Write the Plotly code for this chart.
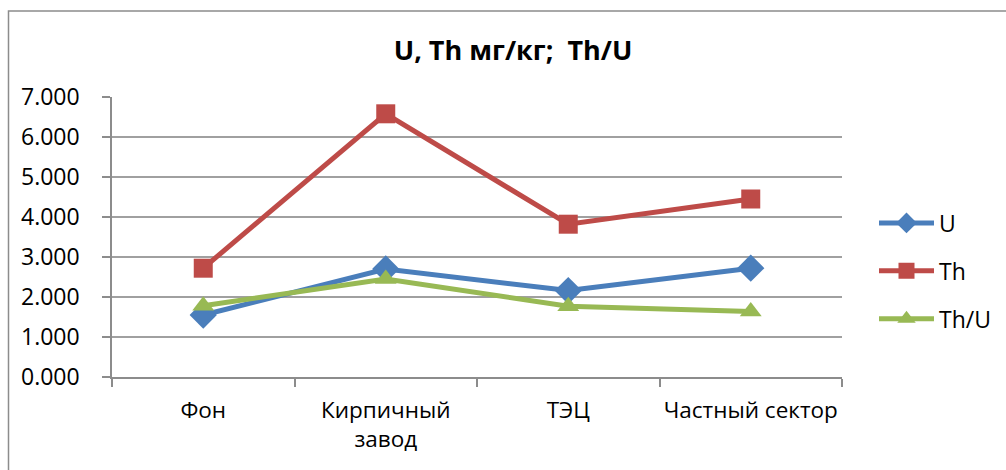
import plotly.graph_objects as go

# Sampling sites and measured values
categories = ["Фон", "Кирпичный<br>завод", "ТЭЦ", "Частный сектор"]
u_values = [1.55, 2.70, 2.16, 2.72]
th_values = [2.72, 6.58, 3.82, 4.45]
th_u_values = [1.78, 2.45, 1.77, 1.64]

series = [
    ("U", u_values, "#4A7EBB", "diamond", 21),
    ("Th", th_values, "#BE4B48", "square", 19),
    ("Th/U", th_u_values, "#98B954", "triangle-up", 19),
]

FONT = "Open Sans"
W, H = 1006, 470
ML, MR, MT, MB = 112, 164, 97, 93

fig = go.Figure()
for i, (name, vals, color, symbol, msize) in enumerate(series):
    fig.add_trace(go.Scatter(
        x=categories, y=vals, name=name, mode="lines+markers",
        line=dict(color=color, width=5),
        marker=dict(symbol=symbol, size=msize, color=color),
        legendgroup=f"g{i}",
    ))

# outer chart frame (open on the right and bottom edges)
pw = W - ML - MR
ph = H - MT - MB
def px_to_paper_x(px):
    return (px - ML) / pw
def px_to_paper_y(py):
    return (H - MB - py) / ph

fig.add_shape(type="rect", xref="paper", yref="paper", layer="below",
              x0=px_to_paper_x(8.5), x1=px_to_paper_x(1015),
              y0=px_to_paper_y(480), y1=px_to_paper_y(11),
              line=dict(color="#8C8C8C", width=1.5), fillcolor="rgba(0,0,0,0)")

fig.update_layout(
    width=W, height=H,
    margin=dict(l=ML, r=MR, t=MT, b=MB, autoexpand=False),
    paper_bgcolor="white", plot_bgcolor="white",
    font=dict(family=FONT, size=22, color="black"),
    title=dict(text="<b>U, Th мг/кг;  Th/U</b>", x=0.51, xref="container",
               xanchor="center", y=1 - 51 / H, yanchor="middle",
               font=dict(family=FONT, size=27, color="black")),
    showlegend=True,
    legend=dict(x=px_to_paper_x(874), xanchor="left",
                y=px_to_paper_y(271), yanchor="middle",
                tracegroupgap=15, itemwidth=55,
                font=dict(family=FONT, size=23),
                bgcolor="rgba(0,0,0,0)"),
    xaxis=dict(type="category", range=[-0.5, 3.5], showgrid=False,
               showline=True, linecolor="#8C8C8C", linewidth=1.5,
               ticks="outside", ticklen=8, tickcolor="#8C8C8C", tickwidth=1.5,
               tickson="boundaries", ticklabelstandoff=12, tickangle=0,
               automargin=False, tickfont=dict(size=22.5)),
    yaxis=dict(range=[0, 7], dtick=1, tickformat=".3f", showgrid=True,
               gridcolor="#A0A0A0", gridwidth=1.5,
               showline=True, linecolor="#8C8C8C", linewidth=1.5,
               ticks="outside", ticklen=8, tickcolor="#8C8C8C", tickwidth=1.5,
               ticklabelstandoff=18, automargin=False,
               tickfont=dict(size=23), zeroline=False),
)

fig.write_html("out.html")
